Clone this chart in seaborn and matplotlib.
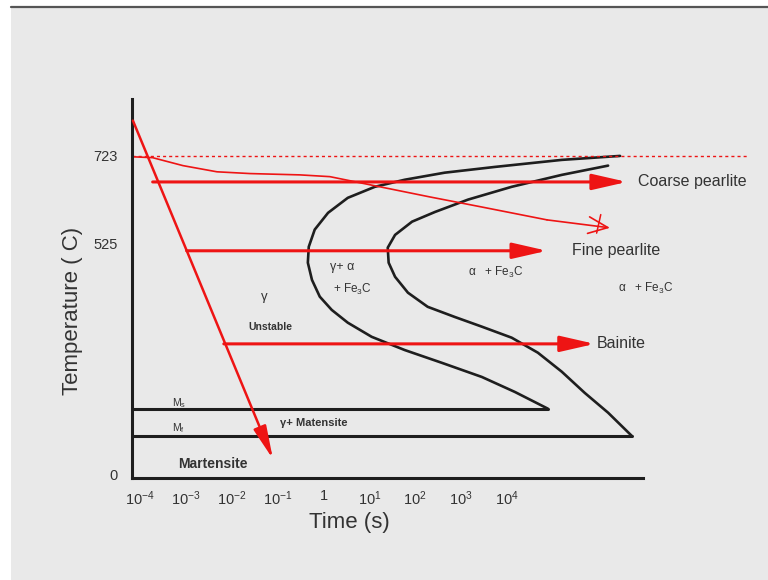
import numpy as np
import pandas as pd
import matplotlib
matplotlib.use("Agg")
import matplotlib.pyplot as plt
import seaborn as sns
from matplotlib.patches import Rectangle
from matplotlib.lines import Line2D
from matplotlib.ticker import NullLocator, FixedLocator, FixedFormatter

# ---------------- data (time exponent = log10 of seconds, temperature in C) ----------------
start_log_t = [6.46, 5.19, 3.73, 2.64, 1.77, 1.12, 0.53, 0.10, -0.19, -0.32, -0.34,
               -0.25, -0.08, 0.18, 0.53, 1.05, 1.77, 2.58, 3.45, 4.17, 4.89]
start_temp = [723, 714, 698, 685, 669, 653, 628, 594, 556, 517, 481,
              442, 404, 374, 345, 313, 283, 254, 222, 188, 150]
finish_log_t = [6.20, 5.19, 4.10, 3.15, 2.43, 1.93, 1.56, 1.40, 1.42, 1.56, 1.84,
                2.27, 2.86, 3.45, 4.10, 4.67, 5.19, 5.69, 6.20, 6.72]
finish_temp = [701, 680, 653, 624, 596, 574, 544, 515, 481, 449, 413,
               381, 358, 336, 311, 277, 234, 186, 141, 88]
slow_log_t = [-4.15, -3.72, -3.06, -2.32, -1.60, -0.51, 0.14, 1.23, 2.32, 3.41, 4.87, 6.24]
slow_temp = [721, 719, 701, 687, 683, 680, 676, 653, 630, 608, 578, 560]
quench_log_t = [-4.15, -1.10]
quench_temp = [803, 36]
ms_temp = 150
mf_temp = 88
eutectoid_temp = 723
hold_names = ["Coarse pearlite", "Fine pearlite", "Bainite"]
hold_temp = [664, 508, 297]
hold_start_log_t = [-3.72, -2.98, -2.17]
hold_end_log_t = [6.61, 4.87, 5.91]
ytick_values = [0, 525, 723]
ytick_labels = ["0", "525", "723"]
xtick_exponents = [-4, -3, -2, -1, 0, 1, 2, 3, 4]
xtick_labels = [r"$10^{-4}$", r"$10^{-3}$", r"$10^{-2}$", r"$10^{-1}$", "1",
                r"$10^{1}$", r"$10^{2}$", r"$10^{3}$", r"$10^{4}$"]

t = lambda e: 10.0 ** np.asarray(e, dtype=float)

# ---------------- style ----------------
sns.set_theme(style="white")
plt.rcParams["font.family"] = ["Liberation Sans", "DejaVu Sans"]
plt.rcParams["mathtext.fontset"] = "custom"
plt.rcParams["mathtext.rm"] = "Liberation Sans"
plt.rcParams["mathtext.it"] = "Liberation Sans:italic"
plt.rcParams["mathtext.bf"] = "Liberation Sans:bold"
plt.rcParams["mathtext.default"] = "regular"

RED = "#ee1414"
BLACK = "#1e1e1e"
TXT = "#333333"

fig = plt.figure(figsize=(7.68, 5.8), dpi=100, facecolor="white")
fig.patches.append(Rectangle((11 / 768, 0), 1 - 11 / 768, 572 / 580, transform=fig.transFigure,
                             facecolor="#e9e9e9", edgecolor="none", zorder=-10))
fig.add_artist(Line2D([11 / 768, 1], [573 / 580, 573 / 580], color="#555555", lw=1.6))

ax = fig.add_axes([132 / 768, 1 - 478 / 580, 511 / 768, 379 / 580])
ax.patch.set_alpha(0)
ax.set_xscale("log")
ax.set_xlim(10 ** -4.17, 10 ** 6.96)
ax.set_ylim(-7, 852)

# C-curves
df_start = pd.DataFrame({"time": t(start_log_t), "temp": start_temp})
df_finish = pd.DataFrame({"time": t(finish_log_t), "temp": finish_temp})
sns.lineplot(data=df_start, x="time", y="temp", sort=False, estimator=None,
             color=BLACK, lw=1.9, ax=ax, solid_joinstyle="round")
sns.lineplot(data=df_finish, x="time", y="temp", sort=False, estimator=None,
             color=BLACK, lw=1.9, ax=ax, solid_joinstyle="round")

# Ms / Mf lines
xl = ax.get_xlim()
ax.plot([xl[0], t(start_log_t[-1])], [ms_temp, ms_temp], color=BLACK, lw=2.2)
ax.plot([xl[0], t(finish_log_t[-1])], [mf_temp, mf_temp], color=BLACK, lw=2.2)

# eutectoid dotted line (extends beyond the axes)
ax.plot([xl[0], t(9.25)], [eutectoid_temp, eutectoid_temp], color=RED, lw=1.0,
        ls=(0, (2.2, 2.2)), clip_on=False)

# slow cooling hand-drawn curve
df_slow = pd.DataFrame({"time": t(slow_log_t[:-1]), "temp": slow_temp[:-1]})
sns.lineplot(data=df_slow, x="time", y="temp", sort=False, estimator=None,
             color=RED, lw=1.2, ax=ax)
ax.annotate("", xy=(t(slow_log_t[-1]), slow_temp[-1]), xytext=(t(slow_log_t[-2]), slow_temp[-2]),
            arrowprops=dict(arrowstyle="->,head_length=14,head_width=6", color=RED, lw=1.2,
                            shrinkA=0, shrinkB=0, mutation_scale=1), annotation_clip=False)
ax.plot(t([6.04, 5.95]), [590, 548], color=RED, lw=1.1, clip_on=False)

# isothermal hold arrows
for name, T, s, e in zip(hold_names, hold_temp, hold_start_log_t, hold_end_log_t):
    ax.annotate("", xy=(t(e), T), xytext=(t(s), T),
                arrowprops=dict(arrowstyle="-|>,head_length=21,head_width=4.8", color=RED, lw=2.2,
                                shrinkA=0, shrinkB=0, mutation_scale=1), annotation_clip=False)

ax.text(t(6.85), hold_temp[0], hold_names[0], fontsize=11.5, color=TXT, va="center", ha="left")
ax.text(t(5.41), hold_temp[1], hold_names[1], fontsize=11.5, color=TXT, va="center", ha="left")
ax.text(t(5.96), hold_temp[2], hold_names[2], fontsize=11.5, color=TXT, va="center", ha="left")

# quench arrow
ax.annotate("", xy=(t(quench_log_t[1]), quench_temp[1]), xytext=(t(quench_log_t[0]), quench_temp[0]),
            arrowprops=dict(arrowstyle="-|>,head_length=20,head_width=4", color=RED, lw=1.8,
                            shrinkA=0, shrinkB=0, mutation_scale=1), annotation_clip=False)

# region labels
ax.text(t(-1.28), 404, "γ", fontsize=9.5, color=TXT, ha="center", va="center")
ax.text(t(-1.15), 336, "Unstable", fontsize=7.5, color=TXT, ha="center", va="center", weight="bold")
ax.text(t(0.40), 472, "γ+ α", fontsize=9, color=TXT, ha="center", va="center")
ax.text(t(0.64), 420, "+ Fe$_3$C", fontsize=8.5, color=TXT, ha="center", va="center")
ax.text(t(3.76), 460, "α   + Fe$_3$C", fontsize=8.5, color=TXT, ha="center", va="center")
ax.text(t(7.02), 422, "α   + Fe$_3$C", fontsize=8.5, color=TXT, ha="center", va="center")
ax.text(t(-3.30), 163, "M$_s$", fontsize=7.5, color=TXT, ha="left", va="center")
ax.text(t(-3.30), 107, "M$_f$", fontsize=7.5, color=TXT, ha="left", va="center")
ax.text(t(-0.95), 118, "γ+ Matensite", fontsize=8, color=TXT, ha="left", va="center", weight="bold")
ax.text(t(-3.17), 25, "Martensite", fontsize=10, color=TXT, ha="left", va="center", weight="bold")

# axes styling
for side in ["top", "right"]:
    ax.spines[side].set_visible(False)
for side in ["left", "bottom"]:
    ax.spines[side].set_color(BLACK)
    ax.spines[side].set_linewidth(2.2)

ax.xaxis.set_major_locator(FixedLocator(list(t(xtick_exponents))))
ax.xaxis.set_major_formatter(FixedFormatter(xtick_labels))
ax.xaxis.set_minor_locator(NullLocator())
ax.set_yticks(ytick_values)
ax.set_yticklabels(ytick_labels)
ax.tick_params(axis="both", length=0, labelsize=10.5, labelcolor=TXT)
ax.tick_params(axis="x", pad=8)
ax.tick_params(axis="y", pad=10)

ax.set_xlabel("Time (s)", fontsize=16, color=TXT)
ax.set_ylabel("Temperature ( C)", fontsize=16, color=TXT)
ax.xaxis.set_label_coords((349 - 132) / 511, -(512 - 478) / 379)
ax.yaxis.set_label_coords((83 - 132) / 511, (478 - 311) / 379)

fig.savefig("out.png", dpi=100, facecolor=fig.get_facecolor())
